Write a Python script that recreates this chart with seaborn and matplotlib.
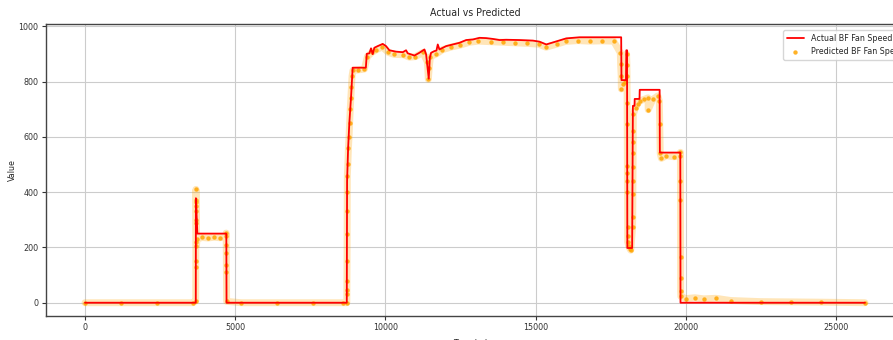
import matplotlib
matplotlib.use("Agg")
import matplotlib.pyplot as plt
from matplotlib import font_manager as fm
import seaborn as sns
import pandas as pd

# Actual BF fan speed: breakpoints of the recorded signal (sample index, value)
actual_idx = [0, 3688, 3692, 3740, 4705, 4712, 8715, 8725, 8760, 8800, 8856, 8911,
              9350, 9380, 9467, 9522, 9578, 9633, 9744, 9911, 10022, 10133, 10356,
              10578, 10689, 10744, 10967, 11133, 11300, 11356, 11444, 11480, 11522,
              11633, 11700, 11744, 11800, 12022, 12244, 12467, 12689, 12911, 13133,
              13356, 13578, 13800, 14022, 14467, 14911, 15133, 15356, 15689, 16022,
              16467, 17850, 17860, 18010, 18022, 18045, 18055, 18215, 18240, 18295,
              18300, 18460, 18467, 19130, 19137, 19818, 19825, 25967]
actual_val = [0, 0, 378, 250, 250, 0, 0, 440, 560, 650, 742, 850,
              850, 900, 902, 920, 899, 922, 928, 936, 928, 913, 908,
              906, 913, 902, 894, 904, 916, 898, 810, 886, 904,
              910, 912, 934, 916, 928, 934, 940, 950, 952, 958,
              957, 954, 950, 951, 950, 948, 944, 934, 945, 956,
              960, 960, 805, 805, 913, 913, 198, 198, 712, 712,
              737, 737, 770, 770, 543, 543, 0, 0]

# Predicted BF fan speed (model output)
pred_idx = [0, 1200, 2400, 3600, 3686, 3688, 3689, 3690, 3691, 3692, 3693, 3694,
            3697, 3700, 3705, 3710, 3730, 3900, 4100, 4300, 4500, 4690, 4700, 4702,
            4704, 4706, 4708, 4715, 5200, 6400, 7600, 8600, 8716, 8718, 8720, 8722,
            8724, 8726, 8728, 8730, 8733, 8750, 8770, 8790, 8810, 8830, 8850, 8870,
            8890, 8920, 9100, 9300, 9400, 9550, 9700, 9900, 10100, 10300, 10600,
            10800, 11000, 11250, 11400, 11430, 11460, 11500, 11700, 11900, 12200,
            12500, 12800, 13100, 13500, 13900, 14300, 14700, 15100, 15350, 15700,
            16000, 16400, 16800, 17200, 17600, 17822, 17830, 17850, 17855, 17900,
            17990, 18030, 18040, 18045, 18050, 18052, 18054, 18056, 18058, 18060,
            18062, 18064, 18066, 18100, 18140, 18170, 18230, 18235, 18240, 18242,
            18244, 18246, 18248, 18250, 18255, 18330, 18400, 18470, 18600, 18744,
            18750, 18900, 19070, 19120, 19133, 19150, 19189, 19356, 19600, 19810,
            19822, 19823, 19824, 19826, 19828, 19830, 19835, 20000, 20300, 20600,
            21000, 21500, 22500, 23500, 24500, 25967]
pred_val = [0, 0, 0, 0, 8, 130, 150, 290, 330, 350, 370, 410,
            365, 300, 220, 205, 230, 236, 234, 237, 235, 240, 252, 208,
            180, 137, 112, 5, 0, 0, 0, 0, 0, 30, 45, 80,
            150, 250, 330, 400, 460, 500, 560, 600, 650, 700, 740, 780,
            820, 840, 842, 845, 890, 905, 915, 925, 905, 898, 897,
            888, 890, 905, 870, 808, 850, 890, 900, 915, 925,
            932, 942, 946, 944, 942, 940, 938, 935, 924, 935,
            945, 948, 946, 947, 946, 904, 862, 820, 773, 790,
            800, 900, 860, 820, 724, 646, 496, 470, 440, 400,
            274, 240, 220, 205, 195, 190, 274, 310, 395, 440,
            490, 540, 580, 622, 682, 706, 720, 730, 735, 741,
            698, 735, 748, 730, 646, 540, 522, 532, 528, 530,
            544, 442, 371, 167, 89, 41, 23, 15, 18, 14,
            16, 8, 4, 3, 2, 0]

actual = pd.DataFrame({"Index": actual_idx, "Value": actual_val})
pred = pd.DataFrame({"Index": pred_idx, "Value": pred_val})

sns.set_style("ticks")


def narrow_sans():
    """Return (family, stretch) of an installed condensed sans face, if any."""
    wanted = ["Liberation Sans Narrow", "DejaVu Sans Condensed", "DejaVu Sans",
              "Roboto Condensed", "Open Sans Condensed", "Roboto", "Open Sans",
              "Noto Sans"]
    found = {}
    for f in fm.fontManager.ttflist:
        is_narrow = (f.stretch in ("condensed", "semi-condensed", "extra-condensed")
                     or "Narrow" in f.name or "Condensed" in f.name
                     or "Condensed" in f.fname or "Narrow" in f.fname)
        if is_narrow and f.style == "normal" and f.weight in (400, "normal", "regular"):
            found.setdefault(f.name, f.stretch)
    for name in wanted:
        if name in found:
            return name, found[name]
    return None, None


fam, stretch = narrow_sans()
if fam is not None:
    plt.rcParams["font.family"] = [fam, "DejaVu Sans"]
    plt.rcParams["font.stretch"] = stretch
    base, title_size = 6.4, 7.6
else:
    plt.rcParams["font.family"] = ["Liberation Sans", "DejaVu Sans"]
    base, title_size = 6.4, 7.6

plt.rcParams.update({
    "font.size": base,
    "xtick.major.size": 2.6, "ytick.major.size": 2.6,
    "xtick.major.pad": 2.8, "ytick.major.pad": 2.8,
    "xtick.color": "#333333", "ytick.color": "#333333",
    "axes.edgecolor": "#444444", "axes.linewidth": 1.0,
})

fig = plt.figure(figsize=(8.93, 3.40), dpi=100)
ax = fig.add_axes([46 / 893, 24 / 340, 858 / 893, 292 / 340])

# faint spread of the dense prediction cloud
ax.plot(pred["Index"], pred["Value"], color="orange", lw=5, alpha=0.28,
        solid_capstyle="round", solid_joinstyle="round", zorder=1.5)
sns.scatterplot(data=pred, x="Index", y="Value", color="orange", s=10,
                linewidth=0, alpha=0.85, zorder=2, ax=ax,
                label="Predicted BF Fan Speed")
sns.lineplot(data=actual, x="Index", y="Value", color="red", lw=1.3,
             zorder=3, ax=ax, label="Actual BF Fan Speed", sort=False,
             estimator=None)

ax.grid(True, color="#cccccc", lw=0.8)
ax.set_axisbelow(True)
ax.set_title("Actual vs Predicted", fontsize=title_size, pad=6)
ax.set_xlabel("Time Index", fontsize=base, labelpad=5)
ax.set_ylabel("Value", fontsize=base)
ax.yaxis.set_label_coords(-0.0334, 0.5)
ax.tick_params(labelsize=base)

handles, labels = ax.get_legend_handles_labels()
order = [labels.index("Actual BF Fan Speed"), labels.index("Predicted BF Fan Speed")]
ax.legend([handles[i] for i in order], [labels[i] for i in order],
          loc="upper left", bbox_to_anchor=(0.859, 0.979), borderaxespad=0,
          fontsize=base, frameon=True, edgecolor="#cccccc", markerscale=1.0)

fig.savefig("out.png", dpi=100)
